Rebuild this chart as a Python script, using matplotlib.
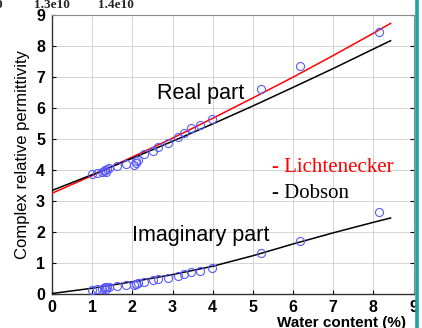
"""
Complex relative permittivity vs water content: measured points with
Lichtenecker and Dobson mixing-model curves (real and imaginary parts).
"""
import matplotlib
matplotlib.use("Agg")
import matplotlib.pyplot as plt

WATER = [1.00, 1.13, 1.25, 1.29, 1.32, 1.35, 1.38, 1.42, 1.63, 1.83, 2.05, 2.08, 2.10,
         2.13, 2.30, 2.52, 2.64, 2.90, 3.13, 3.29, 3.47, 3.69, 3.98, 5.21, 6.17, 8.14]
EPS_REAL = [3.86, 3.90, 3.93, 3.97, 3.99, 3.94, 4.02, 4.04, 4.12, 4.19, 4.15, 4.22, 4.28,
            4.33, 4.50, 4.60, 4.72, 4.85, 5.06, 5.18, 5.36, 5.45, 5.63, 6.61, 7.35, 8.44]
EPS_IMAG = [0.11, 0.13, 0.14, 0.18, 0.20, 0.16, 0.22, 0.21, 0.25, 0.27, 0.28, 0.30, 0.32,
            0.35, 0.38, 0.44, 0.47, 0.51, 0.58, 0.63, 0.68, 0.74, 0.82, 1.30, 1.69, 2.62]

# model curves, sampled along water content
W_FIT = [0, 1, 2, 3, 4, 5, 6, 7, 8, 8.43]
REAL_LICH = [3.24, 3.81, 4.41, 5.02, 5.66, 6.32, 6.99, 7.69, 8.41, 8.73]
REAL_DOB = [3.33, 3.84, 4.37, 4.92, 5.48, 6.06, 6.66, 7.27, 7.90, 8.17]
IMAG_DOB = [0.0, 0.17, 0.38, 0.61, 0.88, 1.22, 1.60, 1.96, 2.30, 2.44]

TOP_LABELS = ["0", "1.3e10", "1.4e10"]

SANS = "Liberation Sans"
SERIF = "Liberation Serif"


def main() -> None:
    fig = plt.figure(figsize=(4.22, 3.28), dpi=100)
    ax = fig.add_axes([52 / 422, 1 - 293.5 / 328, 361.5 / 422, 278.5 / 328])

    ax.plot(W_FIT, REAL_LICH, color="#ff0000", lw=1.1, zorder=3)
    ax.plot(W_FIT, REAL_DOB, color="black", lw=1.1, zorder=3)
    ax.plot(W_FIT, IMAG_DOB, color="black", lw=1.1, zorder=3)
    for eps in (EPS_REAL, EPS_IMAG):
        ax.plot(WATER, eps, ls="none", marker="o", ms=5.8, mfc="none",
                mec="#5a5aff", mew=0.8, zorder=4)

    ax.set_xlim(0, 9)
    ax.set_ylim(0, 9)
    ax.set_xticks(range(10))
    ax.set_yticks(range(10))
    ax.grid(True, color="#d4d4d4", lw=0.7)
    ax.set_axisbelow(True)
    ax.tick_params(direction="in", length=3, width=0.8, right=True, top=False,
                   labelsize=11.5, colors="black")
    ax.tick_params(axis="x", pad=5)
    ax.tick_params(axis="y", pad=5)
    for lab in ax.get_xticklabels() + ax.get_yticklabels():
        lab.set_fontfamily(SANS)
        lab.set_fontweight("bold")
    for side in ("left", "bottom"):
        ax.spines[side].set_color("#333333")
        ax.spines[side].set_linewidth(1.0)
    for side in ("top", "right"):
        ax.spines[side].set_color("#8a8a8a")
        ax.spines[side].set_linewidth(0.8)

    ax.set_ylabel("Complex relative permittivity", family=SANS, fontsize=12, labelpad=4)

    ax.text(2.61, 6.27, "Real part", family=SANS, fontsize=15.5)
    ax.text(1.99, 1.69, "Imaginary part", family=SANS, fontsize=15.5)
    ax.text(5.47, 3.92, "- Lichtenecker", family=SERIF, fontsize=15, color="#ff0000")
    ax.text(5.47, 3.08, "- Dobson", family=SERIF, fontsize=15, color="black")

    # x label sits off-centre and is cut by the bottom edge
    fig.text(277.0 / 422, 1 - 327.5 / 328, "Water content (%)", family=SANS,
             fontsize=11, fontweight="bold", ha="left", va="baseline")

    # remnants of the neighbouring plot's axis labels at the top
    for x_px, txt in zip([-1, 51.5, 115.5], TOP_LABELS):
        fig.text(x_px / 422, 1 - 7.5 / 328, txt, family=SERIF, fontsize=9.5,
                 fontweight="bold", color="#222222", ha="center", va="baseline")

    # teal frame edge on the right
    fig.add_artist(plt.Line2D([416.7 / 422] * 2, [0, 1], color="#1aa3a3", lw=2.6,
                              transform=fig.transFigure))

    fig.savefig("out.png", dpi=100)
    plt.close(fig)


if __name__ == "__main__":
    main()
